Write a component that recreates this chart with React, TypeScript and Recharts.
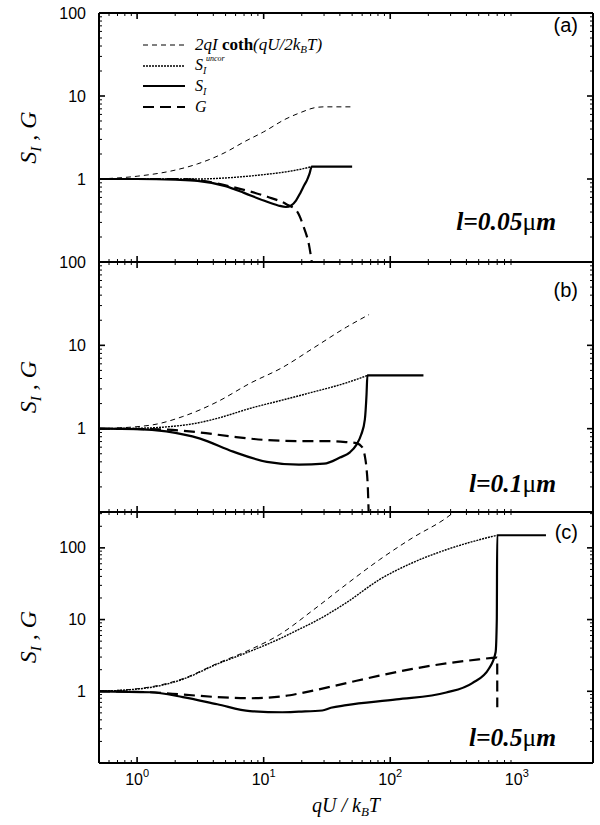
import React from "react";
import { LineChart, Line, XAxis, YAxis } from "recharts";

// ticks
const xTicks = [0.6, 0.7, 0.8, 0.9, 1, 2, 3, 4, 5, 6, 7, 8, 9, 10, 20, 30, 40, 50, 60, 70, 80, 90, 100, 200, 300, 400, 500, 600, 700, 800, 900, 1000];
const yTicks = [0.1, 0.2, 0.3, 0.4, 0.5, 0.6, 0.7, 0.8, 0.9, 1, 2, 3, 4, 5, 6, 7, 8, 9, 10, 20, 30, 40, 50, 60, 70, 80, 90, 100];
const yTicksC = [...yTicks, 200, 300];
const yLabels = [1, 10, 100];

// panel (a)  l=0.05um   [qU/kT, value]
const aCoth = [[0.5, 1], [1, 1.08], [2, 1.28], [3, 1.52], [5, 2.1], [7, 2.8], [10, 3.7], [15, 5.3], [20, 6.4], [25, 7.2], [30, 7.4], [50, 7.4]];
const aUncor = [[0.5, 1], [3, 1], [5, 1.03], [7, 1.07], [10, 1.13], [15, 1.22], [20, 1.32], [24, 1.41]];
const aSI = [[0.5, 1], [1, 1], [2, 0.98], [3, 0.95], [5, 0.82], [7, 0.68], [10, 0.55], [13, 0.48], [15, 0.46], [16.5, 0.48], [18, 0.55], [19.5, 0.68], [21, 0.85], [22, 0.97], [23, 1.15], [24, 1.41], [50, 1.41]];
const aG = [[0.5, 1], [2, 1], [3, 0.97], [5.7, 0.8], [10.7, 0.61], [15, 0.5], [18.5, 0.4], [20.6, 0.27], [23, 0.15], [24, 0.1]];

// panel (b)  l=0.1um
const bCoth = [[0.5, 1], [1.27, 1.1], [2.3, 1.4], [4.3, 2.1], [7.8, 3.5], [14, 5.4], [24.5, 9.2], [45, 16.5], [68, 23.4]];
const bUncor = [[0.5, 1], [1, 1.01], [1.7, 1.05], [3, 1.17], [4.3, 1.33], [7.8, 1.75], [14, 2.2], [24.5, 2.75], [45, 3.55], [66, 4.35]];
const bSI = [[0.5, 1], [1, 0.99], [1.7, 0.93], [3.15, 0.76], [5.75, 0.53], [10.6, 0.4], [19, 0.37], [30, 0.38], [40, 0.45], [48, 0.52], [54, 0.64], [59, 0.85], [63, 1.28], [65, 2.6], [66, 4.35], [183, 4.35]];
const bG = [[0.5, 1], [1.5, 0.98], [3.15, 0.9], [5.75, 0.8], [10.6, 0.73], [19, 0.71], [33, 0.71], [45, 0.69], [54, 0.67], [60, 0.6], [63, 0.47], [65, 0.33], [66.5, 0.2], [67.5, 0.1]];

// panel (c)  l=0.5um
const cCoth = [[0.5, 1], [1.27, 1.15], [2.3, 1.5], [4.3, 2.45], [7.8, 3.8], [13.4, 6.2], [24.5, 13.5], [45, 31], [82, 68], [150, 138], [276, 260], [330, 330]];
const cUncor = [[0.5, 1], [1.27, 1.13], [2.3, 1.47], [4.3, 2.4], [7.8, 3.6], [14, 5.6], [19, 7.3], [24.5, 9.1], [45, 17.2], [82, 36], [150, 62], [276, 94], [500, 129], [700, 150]];
const cSI = [[0.5, 1], [1.27, 0.97], [2.3, 0.83], [4.3, 0.66], [7.8, 0.53], [14, 0.51], [19, 0.52], [29, 0.54], [34, 0.59], [45, 0.64], [112, 0.77], [277, 0.96], [445, 1.3], [605, 2.1], [680, 3.5], [695, 10], [700, 150], [1700, 150]];
const cG = [[0.5, 1], [1.27, 0.97], [2.3, 0.9], [4.3, 0.83], [7.8, 0.8], [13.4, 0.84], [19, 0.93], [24.5, 1.02], [45, 1.3], [82, 1.65], [150, 2.05], [277, 2.45], [500, 2.78], [695, 2.95], [700, 2.93], [701, 0.6]];

const SANS = "'Liberation Sans', Arial, sans-serif";
const SERIF = "'Liberation Serif', 'Times New Roman', serif";

const pts = (arr: number[][]) => arr.map(([x, y]) => ({ x, y }));
const isMajor = (v: number) => Math.abs(Math.log10(v) - Math.round(Math.log10(v))) < 1e-9;

const XTick = (props: any) => {
  const { x, y, payload, side, labels } = props;
  const v = payload.value;
  const major = isMajor(v);
  const len = major ? 6 : 3;
  const dir = side === "bottom" ? -1 : 1;
  return (
    <g>
      {v < 1000 && (
        <line x1={x} x2={x} y1={y} y2={y + dir * len} stroke="#000" strokeWidth={major ? 1.6 : 1} />
      )}
      {labels && major && (
        <text x={x} y={y + 22} textAnchor="middle" fontFamily={SANS} fontSize={16} fill="#000">
          10<tspan dy={-8} fontSize={11}>{Math.round(Math.log10(v))}</tspan>
        </text>
      )}
    </g>
  );
};

const YTick = (props: any) => {
  const { x, y, payload, side } = props;
  const v = payload.value;
  const major = isMajor(v);
  const len = major ? 6 : 3;
  const dir = side === "left" ? 1 : -1;
  return (
    <g>
      <line x1={x} x2={x + dir * len} y1={y} y2={y} stroke="#000" strokeWidth={major ? 1.6 : 1} />
      {side === "left" && yLabels.includes(v) && (
        <text x={x - 13} y={y} dy="0.35em" textAnchor="end" fontFamily={SANS} fontSize={16} fill="#000">
          {v}
        </text>
      )}
    </g>
  );
};

function Panel(props: any) {
  const { top, height, mt, mb, yDomain, yT, coth, uncor, si, g, xLabels } = props;
  const axis = { stroke: "#000", strokeWidth: 2 };
  return (
    <div style={{ position: "absolute", left: 0, top }}>
      <LineChart width={600} height={height} margin={{ top: mt - 1, bottom: mb - 1, left: 98, right: 6 }}>
        <XAxis xAxisId="b" orientation="bottom" dataKey="x" type="number" scale="log" domain={[0.5, 4000]}
          allowDataOverflow ticks={xTicks} interval={0} height={1} tickSize={0} tickMargin={0} tickLine={false}
          axisLine={axis} tick={(p: any) => <XTick {...p} side="bottom" labels={xLabels} />} />
        <XAxis xAxisId="t" orientation="top" dataKey="x" type="number" scale="log" domain={[0.5, 4000]}
          allowDataOverflow ticks={xTicks} interval={0} height={1} tickSize={0} tickMargin={0} tickLine={false}
          axisLine={axis} tick={(p: any) => <XTick {...p} side="top" />} />
        <YAxis yAxisId="l" orientation="left" type="number" scale="log" domain={yDomain} allowDataOverflow
          ticks={yT} interval={0} width={1} tickSize={0} tickMargin={0} tickLine={false}
          axisLine={axis} tick={(p: any) => <YTick {...p} side="left" />} />
        <YAxis yAxisId="r" orientation="right" type="number" scale="log" domain={yDomain} allowDataOverflow
          ticks={yT} interval={0} width={1} tickSize={0} tickMargin={0} tickLine={false}
          axisLine={axis} tick={(p: any) => <YTick {...p} side="right" />} />
        <Line xAxisId="b" yAxisId="l" data={pts(coth)} dataKey="y" type="monotone" stroke="#000" strokeWidth={1}
          strokeDasharray="5 4" dot={false} activeDot={false} isAnimationActive={false} />
        <Line xAxisId="b" yAxisId="l" data={pts(uncor)} dataKey="y" type="monotone" stroke="#000" strokeWidth={1.4}
          strokeDasharray="2 1" dot={false} activeDot={false} isAnimationActive={false} />
        <Line xAxisId="b" yAxisId="l" data={pts(g)} dataKey="y" type="monotone" stroke="#000" strokeWidth={2.2}
          strokeDasharray="11 6" dot={false} activeDot={false} isAnimationActive={false} />
        <Line xAxisId="b" yAxisId="l" data={pts(si)} dataKey="y" type="monotone" stroke="#000" strokeWidth={2.2}
          dot={false} activeDot={false} isAnimationActive={false} />
      </LineChart>
    </div>
  );
}

const YTitle = ({ cy }: { cy: number }) => (
  <text transform={`translate(36,${cy}) rotate(-90)`} textAnchor="middle" fontFamily={SERIF} fontStyle="italic" fontSize={24} fill="#000">
    S<tspan dy={5} fontSize={15}>I</tspan><tspan dy={-5}> , G</tspan>
  </text>
);

const LenLabel = ({ y, v }: { y: number; v: string }) => (
  <text x={556} y={y} textAnchor="end" fontFamily={SERIF} fontStyle="italic" fontWeight="bold" fontSize={25.5} fill="#000">
    l={v}<tspan fontStyle="normal" fontWeight="normal">μ</tspan>m
  </text>
);

export default function App() {
  return (
    <div style={{ position: "absolute", left: 0, top: 0, width: 600, height: 825, background: "#fff" }}>
      <Panel top={0} height={275} mt={13} mb={13} yDomain={[0.1, 100]} yT={yTicks} coth={aCoth} uncor={aUncor} si={aSI} g={aG} />
      <Panel top={250} height={274} mt={12} mb={12} yDomain={[0.1, 100]} yT={yTicks} coth={bCoth} uncor={bUncor} si={bSI} g={bG} />
      <Panel top={500} height={325} mt={12} mb={62} yDomain={[0.1, 316.2]} yT={yTicksC} coth={cCoth} uncor={cUncor} si={cSI} g={cG} xLabels />
      <svg width={600} height={825} style={{ position: "absolute", left: 0, top: 0, pointerEvents: "none" }}>
        {/* legend */}
        <line x1={143} x2={185} y1={45} y2={45} stroke="#000" strokeWidth={1} strokeDasharray="5 4" />
        <line x1={143} x2={185} y1={66} y2={66} stroke="#000" strokeWidth={1.4} strokeDasharray="2 1" />
        <line x1={143} x2={185} y1={86} y2={86} stroke="#000" strokeWidth={2.2} />
        <line x1={143} x2={185} y1={107} y2={107} stroke="#000" strokeWidth={2.2} strokeDasharray="11 6" />
        <g fontFamily={SERIF} fontStyle="italic" fontSize={16} fill="#000">
          <text x={195} y={50} fontSize={17}>
            2qI <tspan fontWeight="bold" fontStyle="normal">coth</tspan>(qU/2k<tspan dy={3} fontSize={11}>B</tspan><tspan dy={-3}>T)</tspan>
          </text>
          <text x={195} y={70}>
            S<tspan dy={4} fontSize={10}>I</tspan><tspan x={206} dy={-13} fontSize={8}>uncor</tspan>
          </text>
          <text x={195} y={91}>
            S<tspan dy={4} fontSize={10}>I</tspan>
          </text>
          <text x={195} y={112}>G</text>
        </g>
        {/* panel letters */}
        <g fontFamily={SANS} fontSize={20} fill="#000" textAnchor="end">
          <text x={578} y={32}>(a)</text>
          <text x={578} y={297}>(b)</text>
          <text x={578} y={539}>(c)</text>
        </g>
        <LenLabel y={230} v="0.05" />
        <LenLabel y={492} v="0.1" />
        <LenLabel y={746} v="0.5" />
        <YTitle cy={137.5} />
        <YTitle cy={387} />
        <YTitle cy={637} />
        <text x={346} y={812} textAnchor="middle" fontFamily={SERIF} fontStyle="italic" fontSize={20} fill="#000">
          qU / k<tspan dy={4} fontSize={13}>B</tspan><tspan dy={-4}>T</tspan>
        </text>
      </svg>
    </div>
  );
}
